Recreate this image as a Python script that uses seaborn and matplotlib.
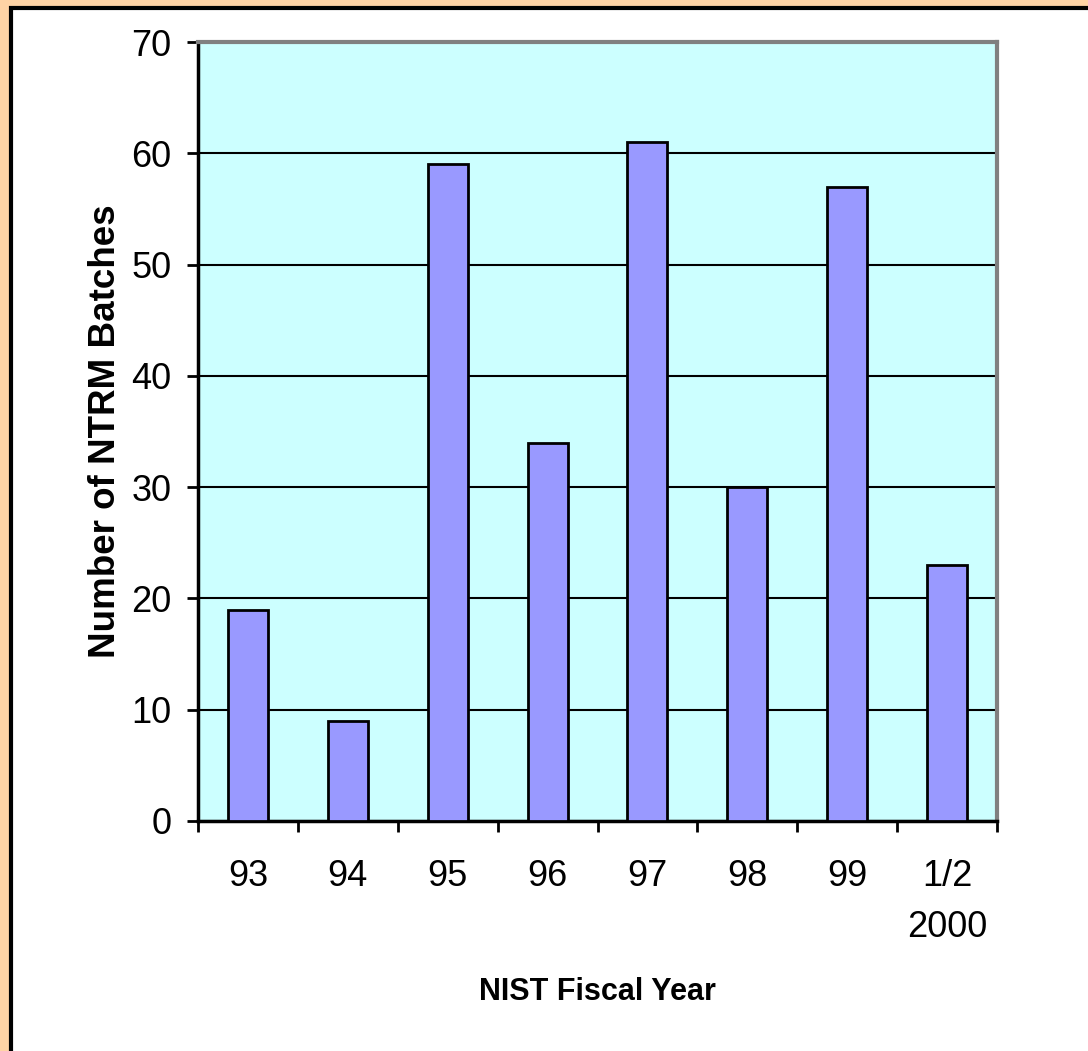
import matplotlib
matplotlib.use("Agg")
import matplotlib.pyplot as plt
import seaborn as sns
import pandas as pd
from matplotlib.patches import Rectangle

# data
years = ["93", "94", "95", "96", "97", "98", "99", "1/2\n2000"]
batches = [19, 9, 59, 34, 61, 30, 57, 23]

df = pd.DataFrame({"year": years, "batches": batches})

sns.set_style("white")
plt.rcParams['font.family'] = ['Liberation Sans', 'DejaVu Sans']
plt.rcParams['text.color'] = 'black'
plt.rcParams['axes.labelcolor'] = 'black'
plt.rcParams['xtick.color'] = 'black'
plt.rcParams['ytick.color'] = 'black'

fig = plt.figure(figsize=(10.88, 10.51), dpi=100)
fig.patch.set_facecolor("#FFD3A5")

# white panel with black frame, peach strip on top/left
panel = Rectangle((11 / 1088, -0.01), 1.02, 1 - 8 / 1051 + 0.01,
                  transform=fig.transFigure, facecolor="white",
                  edgecolor="black", linewidth=3, zorder=-10)
fig.patches.append(panel)

ax = fig.add_axes([198 / 1088, 1 - 821 / 1051, (997 - 198) / 1088, (821 - 42) / 1051])
ax.set_facecolor("#CCFFFF")

sns.barplot(data=df, x="year", y="batches", color="#9999FF", width=0.4,
            saturation=1, edgecolor="black", linewidth=2, ax=ax, zorder=3)

ax.set_xlim(-0.5, len(years) - 0.5)
ax.set_ylim(0, 70)
ax.set_yticks(range(0, 71, 10))
ax.yaxis.grid(True, color="black", linewidth=1.5, zorder=1)
ax.set_axisbelow(True)

# category boundary ticks as minor ticks, labels on major with no tick
ax.set_xticks([i - 0.5 for i in range(len(years) + 1)], minor=True)
ax.tick_params(axis="x", which="minor", direction="out", length=8, width=2,
               color="black", bottom=True)
ax.tick_params(axis="x", which="major", length=0, pad=27, labelsize=26, bottom=True)
ax.tick_params(axis="y", which="major", direction="out", length=8, width=2,
               color="black", pad=11, labelsize=26, left=True)
for lbl in ax.get_xticklabels():
    lbl.set_linespacing(1.6)
    lbl.set_verticalalignment("top")

for side in ["left", "bottom"]:
    ax.spines[side].set_color("black")
    ax.spines[side].set_linewidth(2.5)
for side in ["top", "right"]:
    ax.spines[side].set_color("#808080")
    ax.spines[side].set_linewidth(3)

ax.set_xlabel("NIST Fiscal Year", fontsize=22, fontweight="bold", labelpad=23)
ax.set_ylabel("Number of NTRM Batches", fontsize=26.5, fontweight="bold", labelpad=6)

fig.savefig("out.png", dpi=100, facecolor=fig.get_facecolor())
